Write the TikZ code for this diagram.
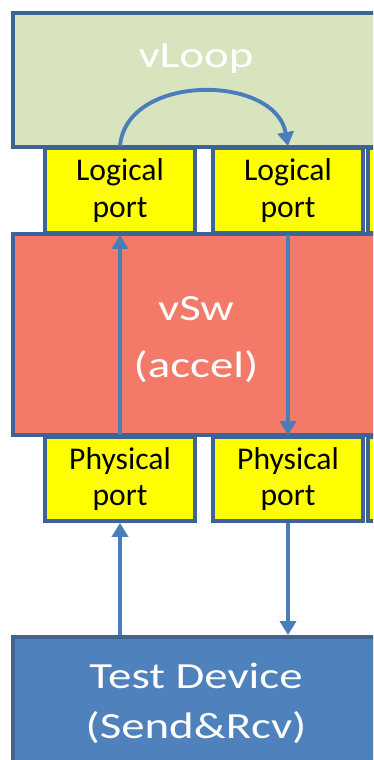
\documentclass[tikz,border=0pt]{standalone}
\usepackage{fontspec}
\setmainfont{Carlito}
\newfontfamily\widefont[FakeStretch=1.27]{Carlito}
\usetikzlibrary{arrows.meta,calc}
\definecolor{edgeblue}{RGB}{62,100,150}
\definecolor{flowblue}{RGB}{74,126,187}
\definecolor{loopgreen}{RGB}{215,228,189}
\definecolor{swsalmon}{RGB}{243,122,104}
\definecolor{devblue}{RGB}{79,129,189}
\definecolor{portyellow}{RGB}{255,255,0}

\begin{document}
\begin{tikzpicture}[x=0.02cm,y=-0.02cm]
	\tikzstyle{bigbox} = [draw=edgeblue, line width=2.2pt, minimum width=7.8cm, inner sep=0pt]
	\tikzstyle{port} = [draw=edgeblue, line width=2.2pt, fill=portyellow, minimum width=3cm, minimum height=1.7cm, align=center, font=\fontsize{18}{20.6}\selectfont]
	\tikzstyle{bigtext} = [text=white, align=center, inner sep=0pt]
	\tikzstyle{flow} = [flowblue, line width=2.2pt, -{Triangle[width=0.32cm,length=0.28cm]}]
	\useasboundingbox (0,0) rectangle (373,760);
	\clip (0,0) rectangle (373,760);
	% logical ports under vLoop
	\node[port] (lp1) at (120,190.5) {Logical\\port};
	\node[port] (lp2) at (288,190.5) {Logical\\port};
	\node[port] (lp3) at (443,190.5) {};
	% physical ports under vSw
	\node[port, minimum height=1.68cm] (pp1) at (120,479) {Physical\\port};
	\node[port, minimum height=1.68cm] (pp2) at (288,479) {Physical\\port};
	\node[port, minimum height=1.68cm] (pp3) at (443,479) {};
	% big boxes
	\node[bigbox, fill=loopgreen, minimum height=2.68cm] (vloop) at (208,80) {};
	\node[bigbox, fill=swsalmon, minimum height=4.02cm] (vsw) at (208,334.5) {};
	\node[bigbox, fill=devblue, minimum height=3.26cm] (dev) at (208,718.5) {};
	\node[bigtext, anchor=base, font=\widefont\fontsize{21}{25}\selectfont] (vloop text) at (196,68) {vLoop};
	\node[bigtext, font=\widefont\fontsize{21}{32.4}\selectfont] (vsw text) at (196,340) {vSw\\(accel)};
	\node[bigtext, font=\widefont\fontsize{21}{28.5}\selectfont] (dev text) at (196,703) {Test Device\\(Send\&Rcv)};
	% traffic path
	\draw[flow] (dev.north -| pp1.south) -- (pp1.south);
	\draw[flow] (pp1.north) -- (lp1.south);
	\draw[flow] (lp1.north) to[out=85,in=100,looseness=1.12] (lp2.north);
	\draw[flow] (lp2.south) -- (pp2.north);
	\draw[flow] (pp2.south) -- (dev.north -| pp2.south);
\end{tikzpicture}
\end{document}
